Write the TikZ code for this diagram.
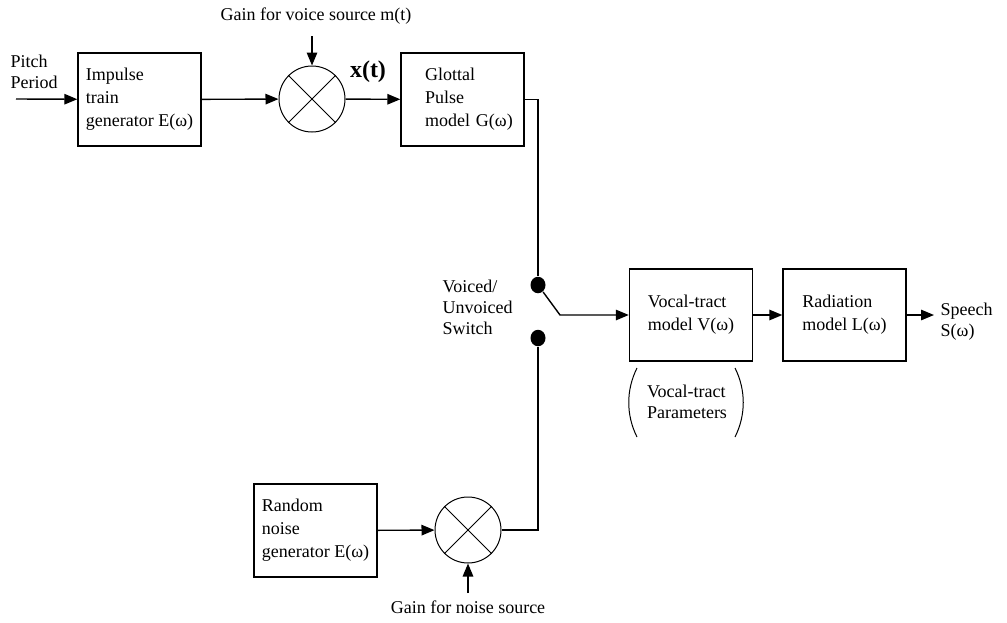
\documentclass[tikz,border=0pt]{standalone}
\usepackage{fontspec}
\setmainfont{Liberation Serif}
\usetikzlibrary{arrows.meta,shapes.geometric}
\begin{document}
\begin{tikzpicture}[x=1pt,y=-1pt,line width=1.4pt,
        >={Triangle[length=13pt,width=10.5pt]},
        block/.style={draw,minimum width=123pt,minimum height=93pt,align=left,inner sep=0pt,font=\fontsize{18}{23}\selectfont},
        mixer/.style={draw,circle,line width=1pt,minimum size=66pt,inner sep=0pt},
        contact/.style={ellipse,fill=black,minimum width=15pt,minimum height=16.5pt,inner sep=0pt},
        lbl/.style={align=left,inner sep=0pt,font=\fontsize{18}{21}\selectfont}]
            \useasboundingbox (0,0) rectangle (1007,622);

            \node[block] (impulse) at (139.5,99.5) {Impulse\\train\\generator E(ω)};
            \node[mixer] (mixv) at (312,99) {};
            \node[block,text width=75pt] (glottal) at (462.5,99.5) {Glottal\\Pulse\\\mbox{model G(ω)}};
            \node[block,minimum height=92pt] (vocal) at (691,315) {Vocal-tract\\model V(ω)};
            \node[block,minimum height=92pt] (radiation) at (844.5,315) {Radiation\\model L(ω)};
            \node[block] (noise) at (315.5,530.5) {Random\\noise\\generator E(ω)};
            \node[mixer] (mixn) at (468,530) {};
            \node[contact] (voiced) at (538,285) {};
            \node[contact] (unvoiced) at (538,338) {};

            \coordinate (pitchin) at (16,99);
            \coordinate (gainv) at (312,36);
            \coordinate (gainn) at (468,593);
            \coordinate (pivot) at (560,315);
            \coordinate (speechout) at (934,315);

            \node[lbl,anchor=west] (pitch) at (10,72) {Pitch\\Period};
            \node[lbl] (gainvtext) at (316,16) {Gain for voice source m(t)};
            \node[font=\fontsize{24}{24}\selectfont\bfseries,inner sep=0pt] (xt) at (368,72) {x(t)};
            \node[lbl,anchor=west] (switch) at (442,307) {Voiced/\\Unvoiced\\Switch};
            \node[lbl,anchor=west] (speech) at (940,322) {Speech\\S(ω)};
            \node[lbl] (params) at (687,402) {Vocal-tract\\Parameters};
            \node[lbl] (gainntext) at (468,607) {Gain for noise source};

            \draw[line width=1pt] (mixv.north west) -- (mixv.south east) (mixv.north east) -- (mixv.south west);
            \draw[line width=1pt] (mixn.north west) -- (mixn.south east) (mixn.north east) -- (mixn.south west);

            \draw[->] (pitchin) -- (impulse);
            \draw[->] (impulse) -- (mixv);
            \draw[->] (gainv) -- (mixv);
            \draw[->] (mixv) -- (glottal);
            \draw (glottal.east) -| (voiced);
            \draw[->] (voiced) -- (pivot) -- (vocal.west);
            \draw (unvoiced) |- (mixn);
            \draw[->] (noise) -- (mixn);
            \draw[->] (gainn) -- (mixn);
            \draw[->] (vocal) -- (radiation);
            \draw[->] (radiation) -- (speechout);

            \draw[line width=1pt] (637,368) .. controls (626,390) and (626,415) .. (637,437);
            \draw[line width=1pt] (735,368) .. controls (746,390) and (746,415) .. (735,437);
        \end{tikzpicture}
\end{document}
